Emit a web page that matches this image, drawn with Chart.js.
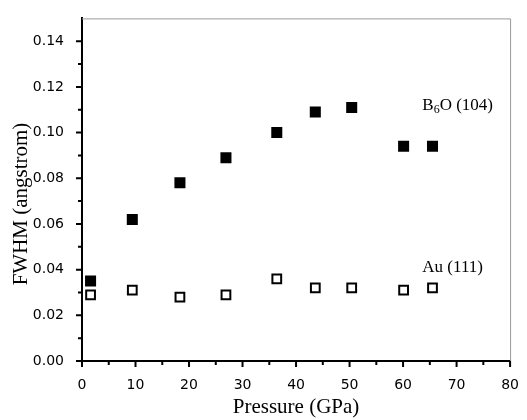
<!DOCTYPE html>
<html>
<head>
<meta charset="utf-8">
<script src="https://cdn.jsdelivr.net/npm/chart.js@4/dist/chart.umd.min.js"></script>
<style>
  html, body { margin: 0; padding: 0; background: #fff; }
  #wrap { width: 527px; height: 420px; }
</style>
</head>
<body>
<div id="wrap"><canvas id="myChart" width="527" height="420"></canvas></div>
<script>
// pressure (GPa) for each measurement
const pressure = [1.6, 9.4, 18.3, 26.9, 36.4, 43.6, 50.4, 60.1, 65.5];
// FWHM values
const b6oFwhm = [0.035, 0.062, 0.078, 0.089, 0.100, 0.109, 0.111, 0.094, 0.094];
const auFwhm = [0.029, 0.031, 0.028, 0.029, 0.036, 0.032, 0.032, 0.031, 0.032];
const xTicks = [0, 10, 20, 30, 40, 50, 60, 70, 80];
const yTicks = [0.00, 0.02, 0.04, 0.06, 0.08, 0.10, 0.12, 0.14];
const xMinor = [5, 15, 25, 35, 45, 55, 65, 75];
const yMinor = [0.01, 0.03, 0.05, 0.07, 0.09, 0.11, 0.13];
// where the series labels sit (data units)
const labels = [
  { parts: ['B', '6', 'O (104)'], x: 63.6, y: 0.110 },
  { parts: ['Au (111)'], x: 63.6, y: 0.0388 }
];
const yTitle = 'FWHM (angstrom)';

const toPoints = (xs, ys) => xs.map((x, i) => ({ x: x, y: ys[i] }));

// ticks, frame, y title and text labels
const framePlugin = {
  id: 'frame',
  afterDraw(chart) {
    const ctx = chart.ctx;
    const xs = chart.scales.x, ys = chart.scales.y;
    const a = chart.chartArea;
    ctx.save();
    // top + right thin gray lines
    ctx.strokeStyle = '#9a9a9a';
    ctx.lineWidth = 1;
    ctx.beginPath();
    ctx.moveTo(a.left, a.top + 0.5);
    ctx.lineTo(a.right + 0.5, a.top + 0.5);
    ctx.lineTo(a.right + 0.5, a.bottom);
    ctx.stroke();

    ctx.strokeStyle = '#000';
    ctx.lineWidth = 2;
    ctx.beginPath();
    xTicks.forEach(v => { const p = xs.getPixelForValue(v); ctx.moveTo(p, a.bottom); ctx.lineTo(p, a.bottom + 6); });
    xMinor.forEach(v => { const p = xs.getPixelForValue(v); ctx.moveTo(p, a.bottom); ctx.lineTo(p, a.bottom + 4); });
    yTicks.forEach(v => { const p = ys.getPixelForValue(v); ctx.moveTo(a.left, p); ctx.lineTo(a.left - 6, p); });
    yMinor.forEach(v => { const p = ys.getPixelForValue(v); ctx.moveTo(a.left, p); ctx.lineTo(a.left - 4, p); });
    ctx.stroke();

    ctx.fillStyle = '#000';
    // y axis title, sits a bit below the middle of the axis like the original
    ctx.save();
    ctx.translate(21, 204);
    ctx.rotate(-Math.PI / 2);
    ctx.font = '21px "Liberation Serif"';
    ctx.textAlign = 'center';
    ctx.textBaseline = 'middle';
    ctx.fillText(yTitle, 0, 0);
    ctx.restore();

    ctx.textBaseline = 'alphabetic';
    labels.forEach(l => {
      let px = xs.getPixelForValue(l.x);
      const py = ys.getPixelForValue(l.y);
      l.parts.forEach((t, i) => {
        const sub = l.parts.length > 1 && i === 1;
        ctx.font = sub ? '12px "Liberation Serif"' : '17px "Liberation Serif"';
        ctx.fillText(t, px, py + (sub ? 3 : 0));
        px += ctx.measureText(t).width;
      });
    });
    ctx.restore();
  }
};

const ctx = document.getElementById('myChart');
new Chart(ctx, {
  type: 'scatter',
  data: {
    datasets: [
      {
        label: 'B6O (104)',
        data: toPoints(pressure, b6oFwhm),
        pointStyle: 'rect',
        pointRadius: 7.8,
        backgroundColor: '#000',
        borderColor: '#000',
        borderWidth: 0
      },
      {
        label: 'Au (111)',
        data: toPoints(pressure, auFwhm),
        pointStyle: 'rect',
        pointRadius: 6.2,
        backgroundColor: '#fff',
        borderColor: '#000',
        borderWidth: 2
      }
    ]
  },
  options: {
    responsive: false,
    animation: false,
    layout: { padding: { top: 12, right: 11, left: 0, bottom: 0 } },
    plugins: { legend: { display: false }, tooltip: { enabled: false } },
    scales: {
      x: {
        type: 'linear',
        min: 0, max: 80,
        afterBuildTicks: s => { s.ticks = xTicks.map(v => ({ value: v })); },
        afterFit: s => { s.height = 59; },
        grid: { display: false },
        border: { display: true, color: '#000', width: 2 },
        ticks: {
          padding: 8,
          color: '#000',
          font: { family: '"DejaVu Sans"', size: 14 },
          maxRotation: 0
        },
        title: {
          display: true,
          text: 'Pressure (GPa)',
          color: '#000',
          font: { family: '"Liberation Serif"', size: 21 },
          padding: { top: 0, bottom: 0 }
        }
      },
      y: {
        min: 0, max: 0.15,
        afterBuildTicks: s => { s.ticks = yTicks.map(v => ({ value: v })); },
        afterFit: s => { s.width = 82; },
        grid: { display: false },
        border: { display: true, color: '#000', width: 2 },
        ticks: {
          padding: 10,
          color: '#000',
          font: { family: '"DejaVu Sans"', size: 14 },
          callback: v => v.toFixed(2)
        },
        title: { display: false }
      }
    }
  },
  plugins: [framePlugin]
});
</script>
</body>
</html>
